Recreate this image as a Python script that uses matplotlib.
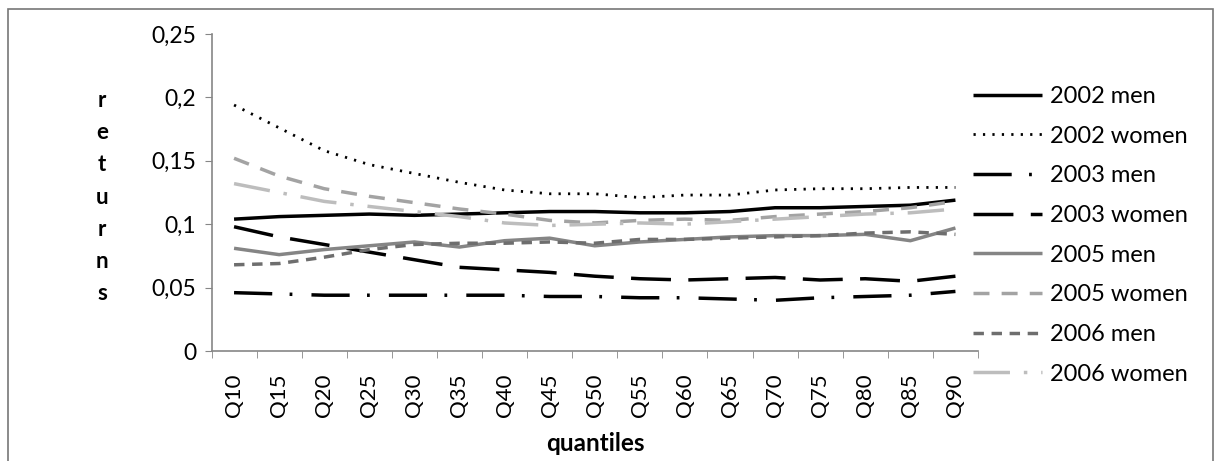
import matplotlib
matplotlib.use("Agg")
import matplotlib.pyplot as plt
from matplotlib.patches import Rectangle
from matplotlib.ticker import FixedLocator, FuncFormatter

plt.rcParams['font.family'] = ['Lato', 'DejaVu Sans']

quantiles = ['Q10', 'Q15', 'Q20', 'Q25', 'Q30', 'Q35', 'Q40', 'Q45', 'Q50',
             'Q55', 'Q60', 'Q65', 'Q70', 'Q75', 'Q80', 'Q85', 'Q90']

men_2002 = [0.104, 0.106, 0.107, 0.108, 0.107, 0.108, 0.109, 0.110, 0.110,
            0.109, 0.109, 0.110, 0.113, 0.113, 0.114, 0.115, 0.119]
women_2002 = [0.194, 0.176, 0.158, 0.147, 0.140, 0.133, 0.127, 0.124, 0.124,
              0.121, 0.123, 0.123, 0.127, 0.128, 0.128, 0.129, 0.129]
men_2003 = [0.046, 0.045, 0.044, 0.044, 0.044, 0.044, 0.044, 0.043, 0.043,
            0.042, 0.042, 0.041, 0.040, 0.042, 0.043, 0.044, 0.047]
women_2003 = [0.098, 0.090, 0.084, 0.078, 0.072, 0.066, 0.064, 0.062, 0.059,
              0.057, 0.056, 0.057, 0.058, 0.056, 0.057, 0.055, 0.059]
men_2005 = [0.081, 0.076, 0.080, 0.083, 0.086, 0.082, 0.087, 0.089, 0.083,
            0.086, 0.088, 0.090, 0.091, 0.091, 0.092, 0.087, 0.097]
women_2005 = [0.152, 0.138, 0.128, 0.122, 0.117, 0.112, 0.108, 0.103, 0.101,
              0.103, 0.104, 0.103, 0.106, 0.108, 0.110, 0.113, 0.118]
men_2006 = [0.068, 0.069, 0.074, 0.080, 0.084, 0.085, 0.085, 0.086, 0.085,
            0.088, 0.088, 0.089, 0.090, 0.091, 0.093, 0.094, 0.092]
women_2006 = [0.132, 0.125, 0.118, 0.114, 0.110, 0.106, 0.101, 0.099, 0.100,
              0.101, 0.100, 0.102, 0.104, 0.106, 0.108, 0.109, 0.112]

series = [
    ('2002 men', men_2002, '#000000', '-'),
    ('2002 women', women_2002, '#000000', (0, (0.8, 2.6))),
    ('2003 men', men_2003, '#000000', (0, (11, 5, 0.8, 5.5))),
    ('2003 women', women_2003, '#000000', (0, (11.5, 5))),
    ('2005 men', men_2005, '#858585', '-'),
    ('2005 women', women_2005, '#a3a3a3', (0, (4.6, 3.5))),
    ('2006 men', men_2006, '#6e6e6e', (0, (3, 2.2))),
    ('2006 women', women_2006, '#bdbdbd', (0, (10.5, 4, 1, 4))),
]

fig = plt.figure(figsize=(12.17, 4.61), dpi=100)
ax = fig.add_axes([0.1738, 0.2386, 0.6298, 0.6876])

x = list(range(len(quantiles)))
for label, vals, color, ls in series:
    lw = 2.0 if label == '2002 women' else 2.5
    ax.plot(x, vals, color=color, linestyle=ls, linewidth=lw, label=label,
            solid_capstyle='butt', dash_capstyle='butt')

ax.set_xlim(-0.5, len(quantiles) - 0.5)
ax.set_ylim(0, 0.25)
ax.set_yticks([0, 0.05, 0.1, 0.15, 0.2, 0.25])
ax.yaxis.set_major_formatter(FuncFormatter(
    lambda v, p: '0' if v == 0 else ('%g' % round(v, 2)).replace('.', ',')))
ax.set_xticks(x)
ax.set_xticklabels(quantiles, rotation=90)
ax.xaxis.set_minor_locator(FixedLocator([i - 0.5 for i in range(len(quantiles) + 1)]))
ax.tick_params(axis='x', which='major', length=0, pad=16, labelsize=16)
ax.tick_params(axis='x', which='minor', length=5, color='#868686', direction='out')
ax.tick_params(axis='y', length=5, color='#868686', pad=6, labelsize=16.5)

for s in ['top', 'right']:
    ax.spines[s].set_visible(False)
for s in ['left', 'bottom']:
    ax.spines[s].set_color('#868686')
    ax.spines[s].set_linewidth(1.2)

fig.text(595 / 1217, 1 - 443 / 461, 'quantiles', ha='center', va='center',
         fontsize=17.5, fontweight='bold')
fig.text(102 / 1217, 1 - 197 / 461, '\n'.join('returns'), ha='center',
         va='center', fontsize=16, fontweight='bold', linespacing=1.65)

leg = ax.legend(loc='upper left', bbox_to_anchor=(973 / 1217, 1 - 86 / 461),
                bbox_transform=fig.transFigure, frameon=False, fontsize=17,
                handlelength=2.92, handletextpad=0.34, labelspacing=0.79,
                borderpad=0, borderaxespad=0)

fig.patches.append(Rectangle((8 / 1217, -0.05), 1205 / 1217, 1.05 - 9 / 461,
                             transform=fig.transFigure, fill=False,
                             edgecolor='#777777', linewidth=1.2))

fig.savefig('out.png', dpi=100)
